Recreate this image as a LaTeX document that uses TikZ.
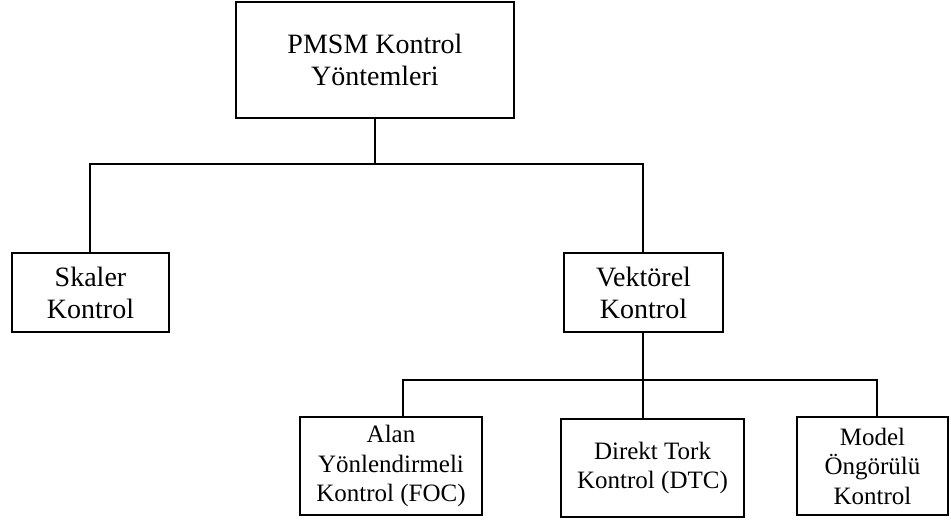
\documentclass[tikz,border=0pt]{standalone}
\usepackage{fontspec}
\setmainfont{Liberation Serif}
\begin{document}
\begin{tikzpicture}[x=1pt,y=-1pt,
  box/.style={draw,line width=2pt,align=center,inner sep=0pt,
    font=\fontsize{28}{32}\selectfont},
  smallbox/.style={box,font=\fontsize{25}{29.5}\selectfont},
  link/.style={line width=2pt}]
\useasboundingbox (0,0) rectangle (951,520);
% boxes
\node[box,minimum width=278pt,minimum height=116pt] (top) at (375,60) {PMSM Kontrol\\Yöntemleri};
\node[box,minimum width=157pt,minimum height=79pt] (skaler) at (90.5,292.5) {Skaler\\Kontrol};
\node[box,minimum width=159pt,minimum height=79pt] (vek) at (643.5,292.5) {Vektörel\\Kontrol};
\node[smallbox,minimum width=182pt,minimum height=98pt] (alan) at (391,466) {Alan\\Yönlendirmeli\\Kontrol (FOC)};
\node[smallbox,minimum width=183pt,minimum height=98pt] (dtc) at (652.5,468) {Direkt Tork\\Kontrol (DTC)};
\node[smallbox,minimum width=151pt,minimum height=98pt] (mpc) at (872.5,466) {Model\\Öngörülü\\Kontrol};
% junctions
\coordinate (j1) at (375,164);
\coordinate (sk) at (90,164);
\coordinate (vk) at (643,164);
\coordinate (j2) at (643,380);
\coordinate (a1) at (403,380);
\coordinate (m1) at (877,380);
% connectors
\draw[link] (top.south) -- (j1);
\draw[link] (skaler.north -| sk) -- (sk) -- (vk) -- (vek.north -| vk);
\draw[link] (vek.south -| j2) -- (j2);
\draw[link] (alan.north -| a1) -- (a1) -- (m1) -- (mpc.north -| m1);
\draw[link] (j2) -- (dtc.north -| j2);
\end{tikzpicture}
\end{document}
